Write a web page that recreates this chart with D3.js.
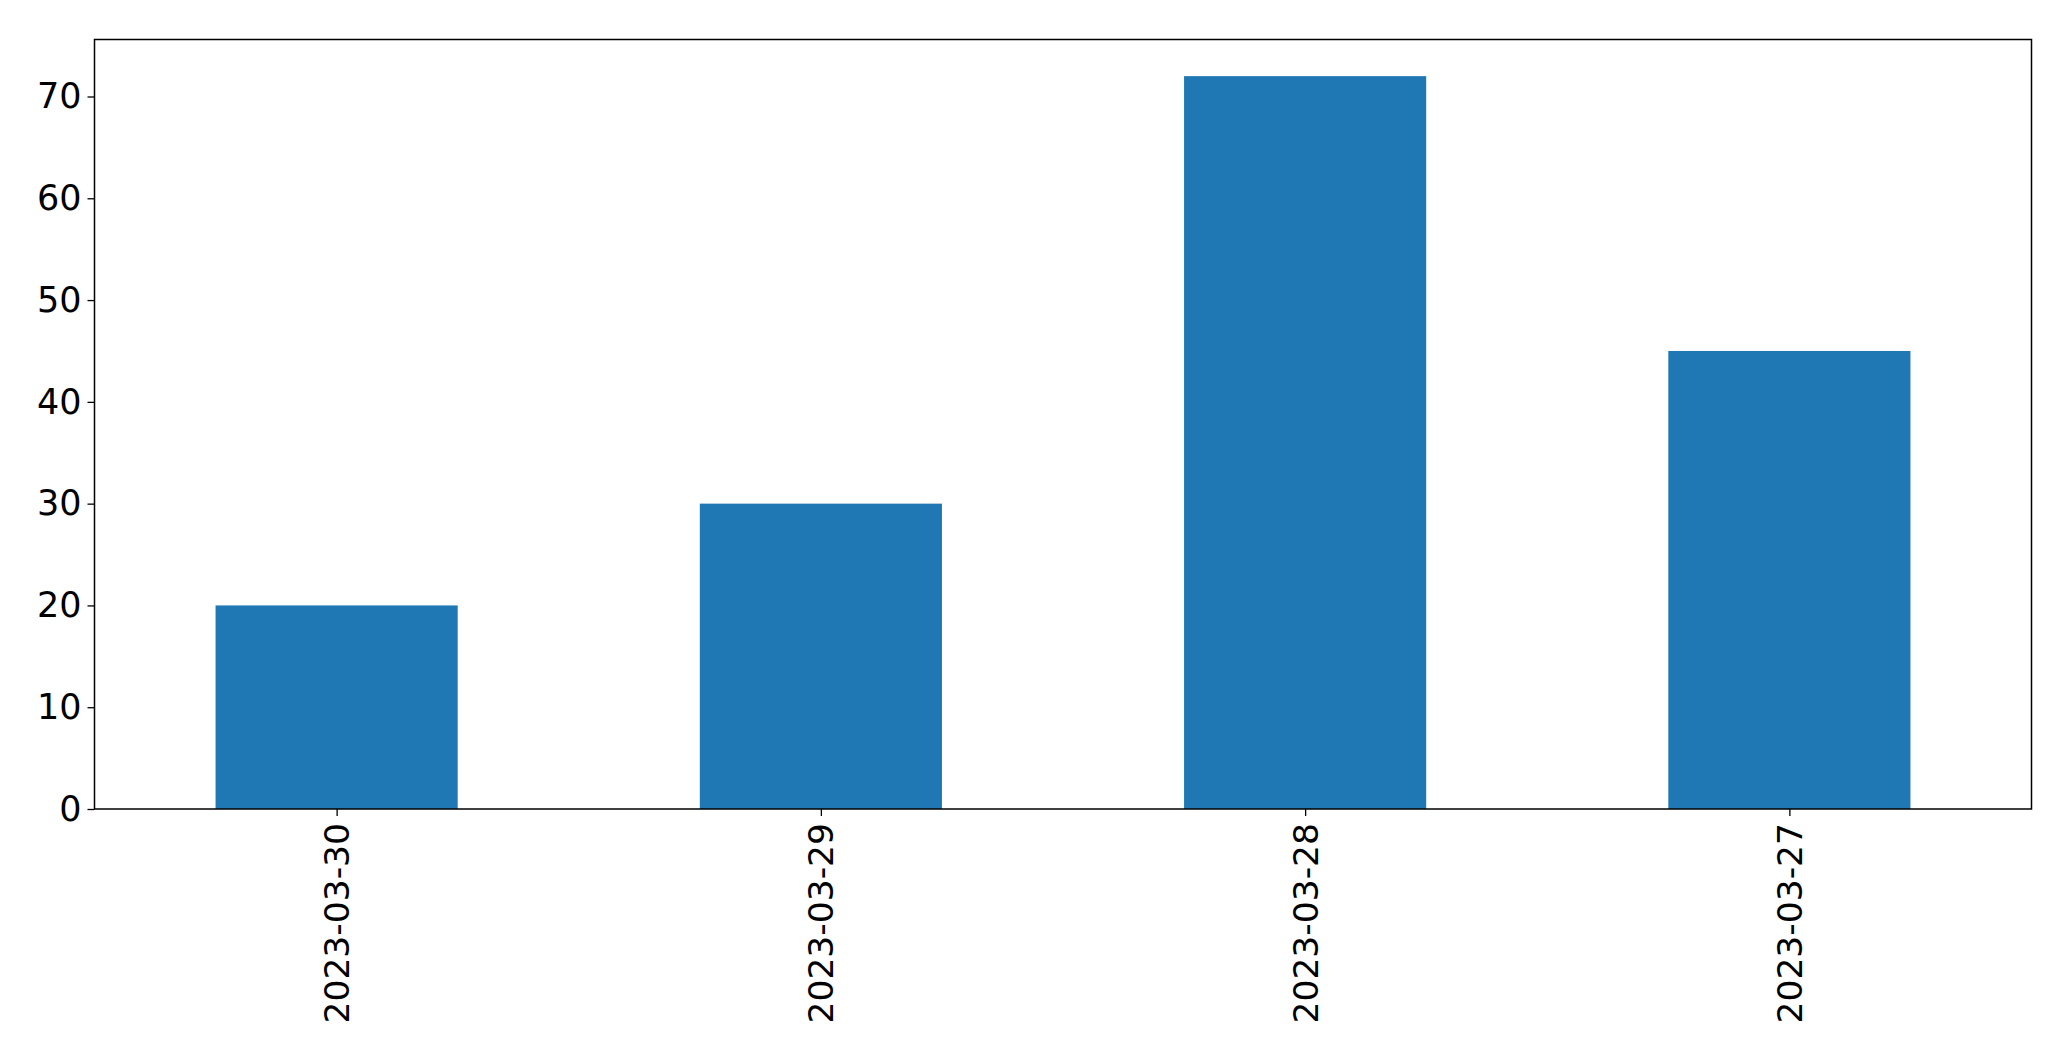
<!DOCTYPE html>
<html>
<head>
<meta charset="utf-8">
<script src="https://cdn.jsdelivr.net/npm/d3@7"></script>
<style>
html,body{margin:0;padding:0;background:#fff;}
svg{display:block;}
</style>
</head>
<body>
<script>
const categories = ["2023-03-30","2023-03-29","2023-03-28","2023-03-27"];
const values = [20, 30, 72, 45];
const yTicks = [0,10,20,30,40,50,60,70];

const W = 2071, H = 1061;
const m = {left: 94.5, right: 2031.5, top: 39.5, bottom: 809};
const fontSize = 35;

const svg = d3.select("body").append("svg").attr("width", W).attr("height", H);

const x = d3.scaleLinear().domain([-0.5, categories.length - 0.5]).range([m.left, m.right]);
const y = d3.scaleLinear().domain([0, d3.max(values) * 1.05]).range([m.bottom, m.top]);

svg.append("g").selectAll("rect").data(values).join("rect")
  .attr("x", (d,i) => x(i - 0.25))
  .attr("width", (d,i) => x(i + 0.25) - x(i - 0.25))
  .attr("y", d => y(d))
  .attr("height", d => y(0) - y(d))
  .attr("fill", "#1f77b4");

const yAxis = svg.append("g").attr("transform", `translate(${m.left},0)`)
  .call(d3.axisLeft(y).tickValues(yTicks).tickSize(7).tickPadding(6).tickFormat(d3.format("d")));
yAxis.select(".domain").remove();
yAxis.selectAll("line").attr("stroke", "#000").attr("stroke-width", 1.3);
yAxis.selectAll("text").attr("font-family", "DejaVu Sans").attr("font-size", fontSize).attr("fill", "#000");

const xAxis = svg.append("g").attr("transform", `translate(0,${m.bottom})`)
  .call(d3.axisBottom(x).tickValues(d3.range(categories.length)).tickSize(7).tickFormat(i => categories[i]));
xAxis.select(".domain").remove();
xAxis.selectAll("line").attr("stroke", "#000").attr("stroke-width", 1.3);
xAxis.selectAll("text")
  .attr("font-family", "DejaVu Sans").attr("font-size", 34.5).attr("fill", "#000")
  .attr("transform", "rotate(-90)")
  .attr("text-anchor", "end")
  .attr("x", -14).attr("y", 0).attr("dy", "0.35em");

svg.append("rect")
  .attr("x", m.left).attr("y", m.top)
  .attr("width", m.right - m.left).attr("height", m.bottom - m.top)
  .attr("fill", "none").attr("stroke", "#000").attr("stroke-width", 1.5);
</script>
</body>
</html>
